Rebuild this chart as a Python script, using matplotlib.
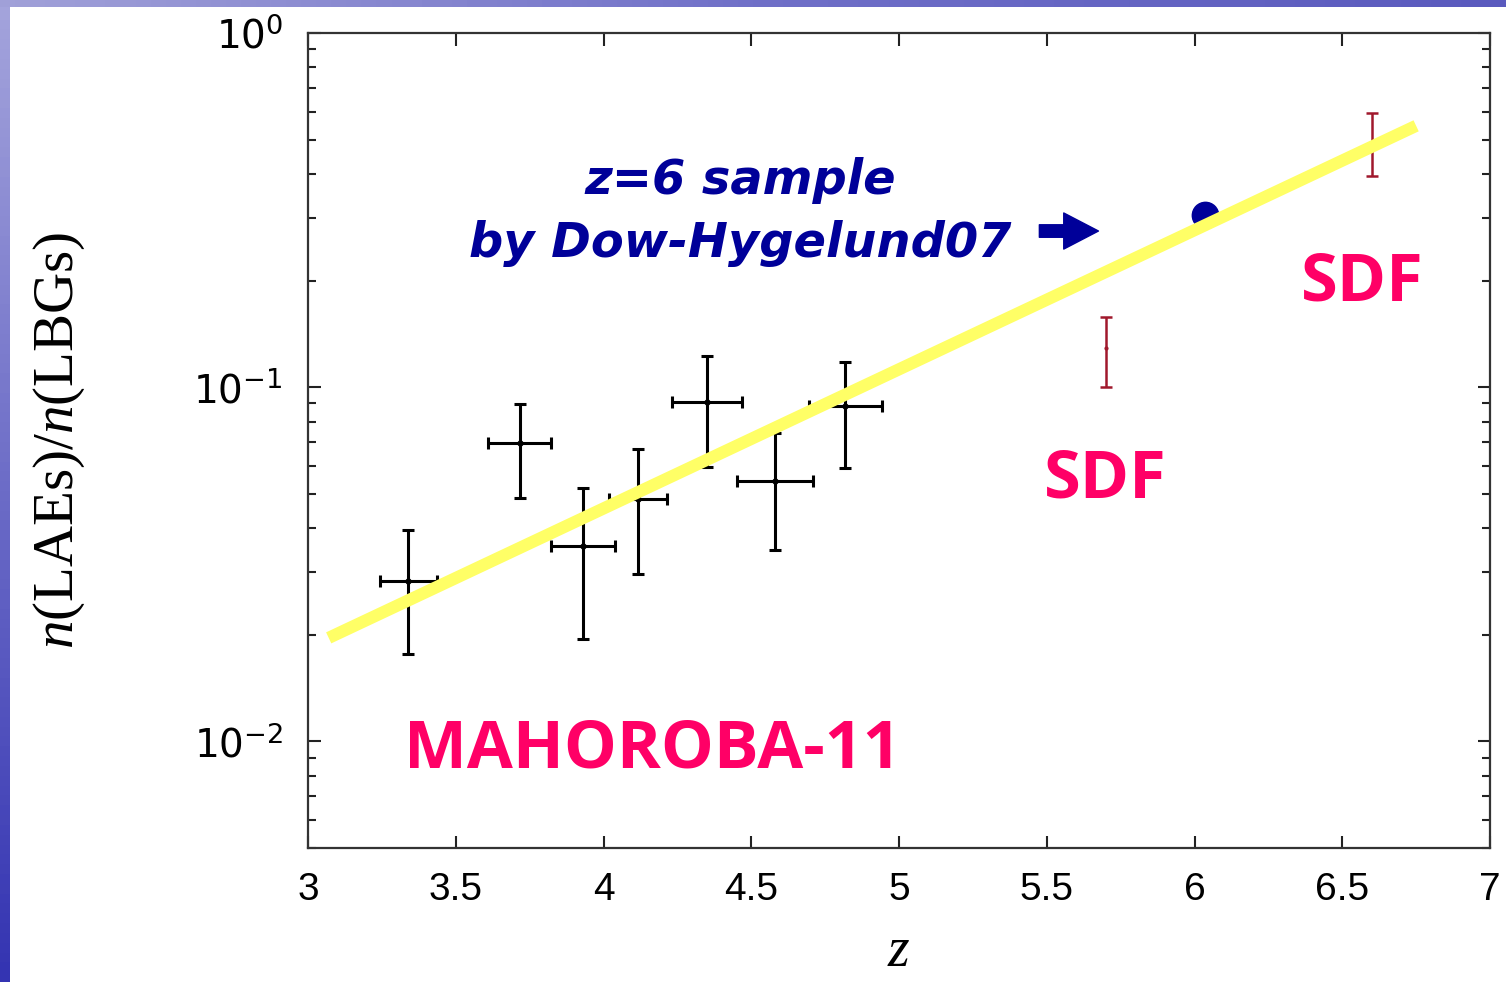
import matplotlib
matplotlib.use('Agg')
import matplotlib.pyplot as plt
import numpy as np

# MAHOROBA-11 points (z, ratio, x half-width, lower / upper ratio)
z_mah = [3.339, 3.717, 3.931, 4.118, 4.350, 4.581, 4.818]
r_mah = [0.0284, 0.0694, 0.0357, 0.0482, 0.0908, 0.0542, 0.0887]
zerr_mah = [0.097, 0.107, 0.107, 0.098, 0.118, 0.128, 0.123]
r_lo_mah = [0.0176, 0.0487, 0.0195, 0.0297, 0.0594, 0.0346, 0.0592]
r_hi_mah = [0.0395, 0.0898, 0.0520, 0.0667, 0.1227, 0.0744, 0.1180]

# SDF points
z_sdf = [5.70, 6.60]
r_sdf = [0.129, 0.485]
r_lo_sdf = [0.100, 0.395]
r_hi_sdf = [0.158, 0.593]

# z=6 sample (Dow-Hygelund07)
z_dh = [6.035]
r_dh = [0.307]

# fitted trend line end points
z_fit = [3.07, 6.75]
r_fit = [0.0196, 0.547]

x_ticks = [3, 3.5, 4, 4.5, 5, 5.5, 6, 6.5, 7]
x_tick_labels = ['3', '3.5', '4', '4.5', '5', '5.5', '6', '6.5', '7']

plt.rcParams['mathtext.fontset'] = 'custom'
plt.rcParams['mathtext.rm'] = 'Liberation Sans'
plt.rcParams['mathtext.it'] = 'Liberation Serif:italic'
plt.rcParams['mathtext.bf'] = 'Liberation Sans:bold'

fig = plt.figure(figsize=(15.06, 9.82), dpi=100)
fig.patch.set_facecolor('white')

# blue slide frame (left and top strips)
left_bar = fig.add_axes([0, 0, 10 / 1506, 1])
left_bar.imshow(np.linspace(0, 1, 100).reshape(-1, 1), aspect='auto',
                cmap=matplotlib.colors.LinearSegmentedColormap.from_list('l', ['#a4a4dc', '#3434b2']))
left_bar.axis('off')
top_bar = fig.add_axes([0, 1 - 7 / 982, 1, 7 / 982])
top_bar.imshow(np.linspace(0, 1, 100).reshape(1, -1), aspect='auto',
               cmap=matplotlib.colors.LinearSegmentedColormap.from_list('t', ['#a0a0d8', '#7070c8', '#5a5abe']))
top_bar.axis('off')

ax = fig.add_axes([308 / 1506, 1 - 848 / 982, 1182 / 1506, 815 / 982])
ax.set_yscale('log')
ax.set_xlim(3, 7)
ax.set_ylim(0.005, 1)

r_mah_a = np.array(r_mah)
ax.errorbar(z_mah, r_mah, xerr=zerr_mah,
            yerr=[r_mah_a - np.array(r_lo_mah), np.array(r_hi_mah) - r_mah_a],
            fmt='o', ms=3.5, color='black', ecolor='black', elinewidth=2.2,
            capsize=4, capthick=2.2, zorder=3)

r_sdf_a = np.array(r_sdf)
ax.errorbar(z_sdf, r_sdf,
            yerr=[r_sdf_a - np.array(r_lo_sdf), np.array(r_hi_sdf) - r_sdf_a],
            fmt='none', ecolor='#a0182c', elinewidth=1.8, capsize=4, capthick=1.8, zorder=3)
ax.plot(z_sdf[:1], r_sdf[:1], 'o', ms=2, color='#a0182c', zorder=3)

ax.plot(z_dh, r_dh, 'o', ms=19, color='#000099', zorder=4)

ax.plot(z_fit, r_fit, color='#ffff66', lw=8.8, solid_capstyle='butt', zorder=5)

ax.annotate('', xy=(5.675, 0.276), xytext=(5.475, 0.276),
            arrowprops=dict(arrowstyle='simple,head_length=1.25,head_width=1.3,tail_width=0.45',
                            color='#000099', shrinkA=0, shrinkB=0, mutation_scale=20))

ax.text(0.3655, 0.8196, 'z=6 sample', transform=ax.transAxes, ha='center', va='center',
        fontsize=34.5, fontweight='bold', fontstyle='italic', family='DejaVu Sans', color='#000099')
ax.text(0.3655, 0.7423, 'by Dow-Hygelund07', transform=ax.transAxes, ha='center', va='center',
        fontsize=34.5, fontweight='bold', fontstyle='italic', family='DejaVu Sans', color='#000099')
ax.text(0.8917, 0.6933, 'SDF', transform=ax.transAxes, ha='center', va='center',
        fontsize=48, fontweight='bold', family='Open Sans', color='#ff0066')
ax.text(0.6743, 0.4515, 'SDF', transform=ax.transAxes, ha='center', va='center',
        fontsize=48, fontweight='bold', family='Open Sans', color='#ff0066')
ax.text(0.291, 0.1202, 'MAHOROBA-11', transform=ax.transAxes, ha='center', va='center',
        fontsize=48, fontweight='bold', family='Open Sans', color='#ff0066')

ax.set_xticks(x_ticks)
ax.set_xticklabels(x_tick_labels, family='Liberation Sans')
ax.tick_params(axis='both', which='both', direction='in', top=True, right=True,
               labelsize=28, colors='#222222', labelcolor='black')
ax.tick_params(axis='x', which='major', length=9, width=1.5, pad=17)
ax.tick_params(axis='y', which='major', length=9, width=1.5, pad=18)
ax.tick_params(axis='y', which='minor', length=6, width=1.5)
for sp in ax.spines.values():
    sp.set_linewidth(1.6)
    sp.set_color('#333333')

ax.set_xlabel('$z$', fontsize=40, labelpad=12)
ax.set_ylabel('$n$(LAEs)/$n$(LBGs)', fontsize=41, family='Liberation Serif')
ax.yaxis.set_label_coords(-0.187, 0.5)

plt.savefig('out.png', dpi=100)
